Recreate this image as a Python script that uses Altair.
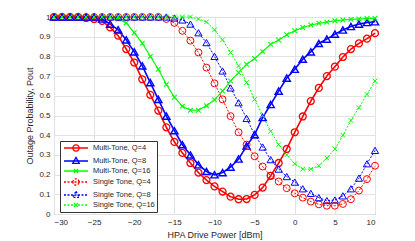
import altair as alt
import pandas as pd

DBM = list(range(-30, 11))
SERIES = ["Multi-Tone, Q=4", "Multi-Tone, Q=8", "Multi-Tone, Q=16",
          "Single Tone, Q=4", "Single Tone, Q=8", "Single Tone, Q=16"]

MT_Q4 = [1, 1, 1, 1, 0.995, 0.99, 0.98, 0.947, 0.905, 0.837, 0.769, 0.684, 0.605, 0.525,
         0.44, 0.366, 0.31, 0.259, 0.21, 0.172, 0.14, 0.114, 0.088, 0.075, 0.076, 0.097,
         0.134, 0.194, 0.259, 0.33, 0.415, 0.495, 0.573, 0.64, 0.70, 0.748, 0.797, 0.837,
         0.866, 0.89, 0.918]
MT_Q8 = [1, 1, 1, 1, 1, 1, 0.99, 0.964, 0.935, 0.884, 0.823, 0.752, 0.667, 0.582, 0.497,
         0.423, 0.352, 0.30, 0.25, 0.216, 0.199, 0.21, 0.238, 0.279, 0.345, 0.403, 0.49,
         0.556, 0.624, 0.69, 0.735, 0.786, 0.823, 0.866, 0.888, 0.913, 0.934, 0.952, 0.964,
         0.972, 0.976]
MT_Q16 = [1, 1, 1, 1, 1, 1, 1, 1, 0.99, 0.97, 0.92, 0.867, 0.80, 0.735, 0.658, 0.593, 0.547,
          0.527, 0.527, 0.55, 0.58, 0.624, 0.675, 0.718, 0.76, 0.789, 0.825, 0.862, 0.883,
          0.91, 0.93, 0.947, 0.959, 0.968, 0.974, 0.981, 0.985, 0.988, 0.99, 0.992, 0.994]
ST_Q4 = [1, 1, 1, 1, 1, 1, 1, 1, 1, 1, 1, 1, 1, 1, 0.99, 0.97, 0.93, 0.88, 0.82, 0.743,
         0.663, 0.582, 0.497, 0.415, 0.352, 0.293, 0.241, 0.194, 0.165, 0.131, 0.105, 0.083,
         0.063, 0.049, 0.042, 0.042, 0.051, 0.075, 0.119, 0.177, 0.245]
ST_Q8 = [1, 1, 1, 1, 1, 1, 1, 1, 1, 1, 1, 1, 1, 1, 1, 0.995, 0.985, 0.964, 0.92, 0.87, 0.80,
         0.726, 0.64, 0.565, 0.485, 0.403, 0.34, 0.276, 0.228, 0.19, 0.162, 0.128, 0.105,
         0.083, 0.068, 0.071, 0.092, 0.128, 0.182, 0.255, 0.323]
ST_Q16 = [1, 1, 1, 1, 1, 1, 1, 1, 1, 1, 1, 1, 1, 1, 1, 1, 1, 1, 0.99, 0.975, 0.935, 0.884,
          0.82, 0.752, 0.667, 0.582, 0.5, 0.42, 0.352, 0.30, 0.255, 0.228, 0.228, 0.245,
          0.284, 0.33, 0.40, 0.475, 0.54, 0.607, 0.675]

VALUES = [MT_Q4, MT_Q8, MT_Q16, ST_Q4, ST_Q8, ST_Q16]
COLORS = ["#ff0000", "#0000ff", "#00ff00", "#ff0000", "#0000ff", "#00ff00"]
DASHES = [[1, 0], [1, 0], [1, 0], [2, 1.5], [2, 1.5], [2, 1.5]]
LINE_W = [1.6, 1.6, 1.2, 1.0, 1.0, 1.0]
MARK_W = [1.3, 1.4, 1.1, 1.0, 1.0, 1.0]
X_PATH = "M-1,-1L1,1M-1,1L1,-1"
MARKER = ["circle", "triangle-up", X_PATH] * 2
MARK_SIZE = [48, 52, 22] * 2

# legend glyphs: a short line with the marker on it (unit = half of sqrt(symbolSize))
LEG_CIRCLE = "M-3,0L3,0M-0.78,0A0.78,0.78 0 1,1 0.78,0A0.78,0.78 0 1,1 -0.78,0"
LEG_TRI = "M-3,0L3,0M0,-0.9L0.82,0.58L-0.82,0.58Z"
LEG_X = "M-3,0L3,0M-0.5,-0.5L0.5,0.5M-0.5,0.5L0.5,-0.5"
LEG_SHAPES = [LEG_CIRCLE, LEG_TRI, LEG_X] * 2

rows = []
for s, vals in zip(SERIES, VALUES):
    for d, v in zip(DBM, vals):
        rows.append({"dbm": d, "pout": v, "series": s})
df = pd.DataFrame(rows)

x_enc = alt.X("dbm:Q", scale=alt.Scale(domain=[-30, 10], nice=False),
              axis=alt.Axis(values=[-30, -25, -20, -15, -10, -5, 0, 5, 10],
                            title="HPA Drive Power [dBm]"))
y_enc = alt.Y("pout:Q", scale=alt.Scale(domain=[0, 1], nice=False),
              axis=alt.Axis(values=[0, 0.1, 0.2, 0.3, 0.4, 0.5, 0.6, 0.7, 0.8, 0.9, 1],
                            format="~g", title="Outage Probability, Pout"))

base = alt.Chart(df)
layers = []
for i, s in enumerate(SERIES):
    sub = base.transform_filter(alt.datum.series == s)
    layers.append(sub.mark_line(color=COLORS[i], strokeWidth=LINE_W[i],
                                strokeDash=DASHES[i]).encode(x=x_enc, y=y_enc))
for i, s in enumerate(SERIES):
    sub = base.transform_filter(alt.datum.series == s)
    layers.append(sub.mark_point(shape=MARKER[i], color=COLORS[i], size=MARK_SIZE[i],
                                 strokeWidth=MARK_W[i], filled=False, opacity=1)
                  .encode(x=x_enc, y=y_enc))

legend_layer = base.transform_filter("false").mark_point(
    filled=False, size=64, strokeWidth=1.2, opacity=1).encode(
    x=x_enc, y=y_enc,
    color=alt.Color("series:N", scale=alt.Scale(domain=SERIES, range=COLORS),
                    legend=alt.Legend(title=None, orient="none", legendX=6, legendY=124)),
    shape=alt.Shape("series:N", scale=alt.Scale(domain=SERIES, range=LEG_SHAPES)),
    strokeDash=alt.StrokeDash("series:N", scale=alt.Scale(domain=SERIES, range=DASHES)),
)
layers.append(legend_layer)

chart = alt.layer(*layers).properties(
    width=321, height=197,
    padding={"left": 46, "top": 9, "right": 30, "bottom": 30},
    autosize=alt.AutoSizeParams(type="none"),
).configure_view(
    stroke="#8a8a8a", strokeWidth=1
).configure_axis(
    grid=True, gridColor="#e2e2e2", gridWidth=1, domain=False, ticks=False,
    labelFont="Liberation Sans", labelFontSize=8, labelColor="#262626", labelPadding=4,
    titleFont="Liberation Sans", titleFontSize=9, titleFontWeight="normal",
    titleColor="#262626", titlePadding=4,
).configure_legend(
    fillColor="white", strokeColor="#333333", padding=2, symbolSize=64,
    symbolOffset=9, symbolStrokeWidth=1.3, labelFont="Liberation Sans", labelFontSize=7.5,
    labelColor="#262626", rowPadding=0, labelOffset=12, cornerRadius=0,
)

chart.save("out.html", embed_options={"renderer": "svg", "actions": False})
